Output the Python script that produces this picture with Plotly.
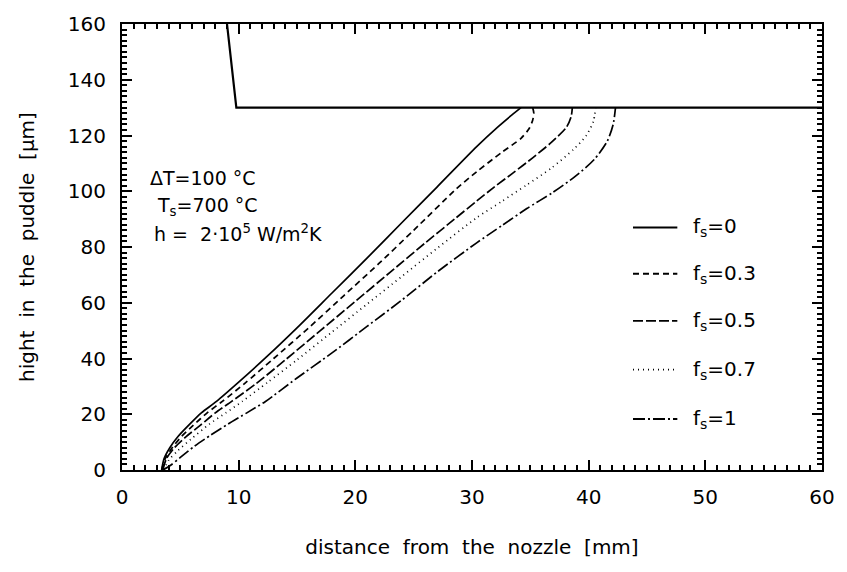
import plotly.graph_objects as go

# ---- data ----
f0_x = [3.4, 3.6, 4.1, 4.8, 5.7, 6.8, 8.1, 10, 12.5, 15, 18, 21, 24, 27, 30.4, 32.2, 33.4, 34.2]
f0_y = [0, 4, 8, 12, 16, 20.5, 24.6, 31.5, 41, 51, 63.5, 76, 88.8, 101.5, 116, 123, 127.3, 130]

f03_x = [3.4, 3.7, 4.3, 5.1, 6.1, 7.3, 8.6, 10.5, 13, 16, 19, 22, 25, 28.7, 30.4, 32.5, 34.2, 34.9, 35.2, 35.3, 35.2]
f03_y = [0, 4, 8, 12, 16, 20.5, 24.6, 31, 40, 51, 62.5, 74, 86, 101, 107, 113.8, 119, 122.5, 125.5, 128, 130]

f05_x = [3.5, 3.8, 4.5, 5.5, 6.7, 8.0, 9.4, 11.5, 14, 17, 20, 23, 26, 28.5, 30.4, 31.9, 33.5, 35.2, 36.8, 38.1, 38.5, 38.6]
f05_y = [0, 4, 8, 12, 16, 20.5, 24.6, 31, 39.5, 50, 60.5, 71, 81.5, 90, 96.5, 101.5, 106.5, 112, 117.5, 123, 126.8, 130]

f07_x = [3.6, 4.0, 4.8, 5.9, 7.5, 8.9, 10.3, 12.5, 15, 18, 21, 24, 27, 30.4, 32.6, 34.7, 36.8, 38.7, 39.8, 40.4, 40.6]
f07_y = [0, 3.5, 7, 11, 16.5, 20.5, 24.6, 31.5, 39.5, 49.5, 59.5, 69.5, 79.5, 90.5, 96.5, 102.3, 108.3, 115, 120, 125, 130]

f1_x = [3.5, 4.2, 5.0, 6.2, 7.6, 9.1, 10.7, 12.3, 15, 18, 21, 24, 27, 30.4, 32.6, 34.7, 36.9, 38.9, 40.5, 41.6, 42.1, 42.3]
f1_y = [0, 1.8, 4.5, 8.5, 12.5, 16.5, 20.5, 24.6, 33, 42, 51.5, 61, 71, 81.5, 87.8, 93.8, 99.5, 105.5, 111.5, 118, 124, 130]

nozzle_x = [9.0, 9.8, 60]
nozzle_y = [160, 130, 130]

series_labels = ["f<sub>s</sub>=0", "f<sub>s</sub>=0.3", "f<sub>s</sub>=0.5", "f<sub>s</sub>=0.7", "f<sub>s</sub>=1"]
legend_y = [87, 70.4, 53.5, 36, 18.3]
dashes = ["solid", "6px,4px", "10px,3px", "1px,4px", "12px,3px,2px,3px"]

x_ticks = [0, 10, 20, 30, 40, 50, 60]
y_ticks = [0, 20, 40, 60, 80, 100, 120, 140, 160]

FONT = "DejaVu Sans"
SP = "\u00a0"

fig = go.Figure()
curves = [(f0_x, f0_y), (f03_x, f03_y), (f05_x, f05_y), (f07_x, f07_y), (f1_x, f1_y)]
for (cx, cy), d, lab in zip(curves, dashes, series_labels):
    fig.add_trace(go.Scatter(x=cx, y=cy, mode="lines", name=lab,
                             line=dict(color="black", width=1.7, dash=d, shape="spline", smoothing=0.7),
                             showlegend=False))

fig.add_trace(go.Scatter(x=nozzle_x, y=nozzle_y, mode="lines",
                         line=dict(color="black", width=2.2), showlegend=False))

# legend drawn inside plot
for ly, d, lab in zip(legend_y, dashes, series_labels):
    fig.add_shape(type="line", x0=43.8, x1=47.6, y0=ly, y1=ly, xref="x", yref="y",
                  line=dict(color="black", width=1.8, dash=d))
    fig.add_annotation(x=48.8, y=ly, xref="x", yref="y", text=lab, showarrow=False,
                       xanchor="left", yanchor="middle", font=dict(family=FONT, size=20, color="black"))

ann = [("ΔT=100 °C", 2.2, 104.6), ("T<sub>s</sub>=700 °C", 2.8, 94.4),
       ("h" + SP + "=" + SP + SP + "2·10<sup>5</sup> W/m<sup>2</sup>K", 2.6, 84.9)]
for t, ax_, ay_ in ann:
    fig.add_annotation(x=ax_, y=ay_, xref="x", yref="y", text=t, showarrow=False,
                       xanchor="left", yanchor="middle", font=dict(family=FONT, size=19, color="black"))

xt = SP.join(["distance", "", "from", "", "the", "", "nozzle", "", "[mm]"])
yt = SP.join(["hight", "", "in", "", "the", "", "puddle", "", "[μm]"])

fig.update_xaxes(range=[0, 60], tickvals=x_ticks, ticks="inside", ticklen=10, tickwidth=1.6,
                 tickcolor="black", showline=True, linewidth=2, linecolor="black", mirror="ticks",
                 showgrid=False, zeroline=False,
                 minor=dict(dtick=1, ticks="inside", ticklen=5, tickwidth=1.6, tickcolor="black", showgrid=False),
                 tickfont=dict(family=FONT, size=20, color="black"), ticklabelstandoff=8,
                 title=dict(text=xt, font=dict(family=FONT, size=20, color="black"), standoff=32))
fig.update_yaxes(range=[0, 160], tickvals=y_ticks, ticks="inside", ticklen=10, tickwidth=1.6,
                 tickcolor="black", showline=True, linewidth=2, linecolor="black", mirror="ticks",
                 showgrid=False, zeroline=False,
                 minor=dict(dtick=2, ticks="inside", ticklen=5, tickwidth=1.6, tickcolor="black", showgrid=False),
                 tickfont=dict(family=FONT, size=20, color="black"), ticklabelstandoff=10,
                 title=dict(text=yt, font=dict(family=FONT, size=20, color="black"), standoff=28))
fig.update_layout(width=847, height=572, margin=dict(l=122, r=19, t=16, b=102),
                  plot_bgcolor="white", paper_bgcolor="white")
fig.write_html("out.html")
